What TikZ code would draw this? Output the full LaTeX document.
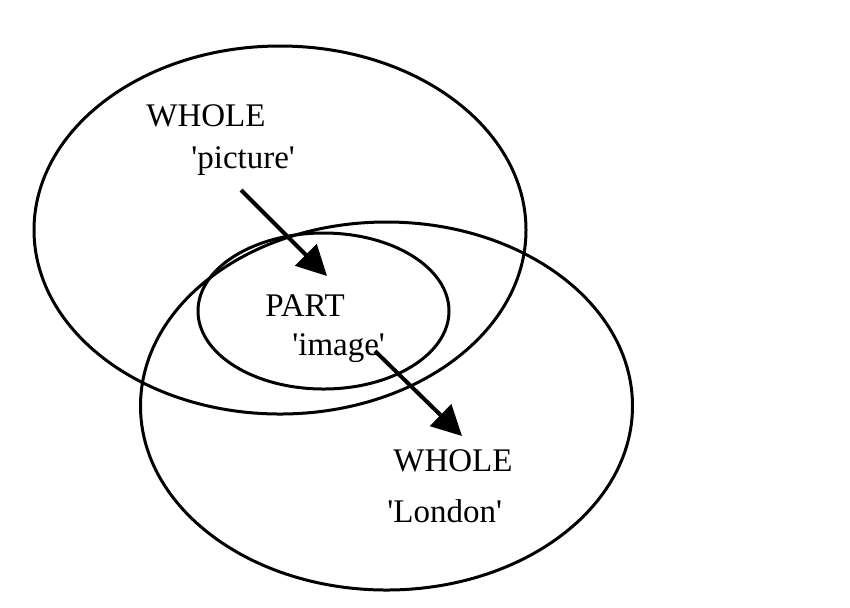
\documentclass[tikz,border=0pt]{standalone}
\usepackage{fontspec}
\setmainfont{Liberation Serif}[Ligatures=TeXOff]
\usetikzlibrary{arrows.meta}
\tikzset{
  ring/.style={line width=1.5pt},
  lbl/.style={inner sep=0pt, anchor=base west, font=\fontsize{16.5}{20}\selectfont},
  relarrow/.style={line width=2pt, -{Triangle[length=15pt,width=15pt]}}
}
\begin{document}
\begin{tikzpicture}[x=0.5pt,y=-0.5pt]
\useasboundingbox (0,0) rectangle (850,607);
% ellipses
\draw[ring] (280,230) ellipse [x radius=246, y radius=184];
\draw[ring] (386.5,406) ellipse [x radius=246, y radius=184];
\draw[ring] (323.5,311) ellipse [x radius=125.5, y radius=78];
% labels
\node[lbl] (w1) at (146,126) {WHOLE};
\node[lbl] (pic) at (191,168) {'picture'};
\node[lbl] (part) at (265,316) {PART};
\node[lbl] (img) at (292,355) {'image'};
\node[lbl] (w2) at (393,471) {WHOLE};
\node[lbl] (lon) at (387,522) {'London'};
% arrows
\coordinate (a1s) at (241,190);
\coordinate (a1e) at (327,276);
\coordinate (a2s) at (375,351);
\coordinate (a2e) at (462,436);
\draw[relarrow] (a1s) -- (a1e);
\draw[relarrow] (a2s) -- (a2e);
\end{tikzpicture}
\end{document}
